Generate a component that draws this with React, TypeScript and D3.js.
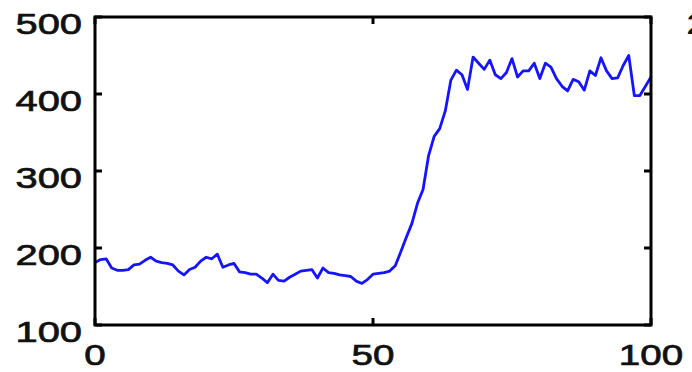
import React, { useEffect, useRef } from 'react';
import * as d3 from 'd3';

// values, one per x step 0..100
const seriesValues: number[] = [
  181, 185, 186, 174, 171, 171, 172, 178, 179, 184,
  188, 183, 181, 180, 178, 170, 165, 172, 175, 183,
  188, 186, 192, 175, 178, 180, 169, 168, 166, 166,
  161, 155, 166, 158, 157, 162, 166, 170, 171, 172,
  161, 174, 168, 167, 165, 164, 163, 157, 154, 159,
  166, 167, 168, 170, 177, 195, 214, 232, 258, 276,
  320, 345, 355, 378, 418, 431, 425, 406, 448, 440,
  432, 444, 425, 420, 428, 446, 422, 430, 430, 440,
  420, 440, 435, 420, 410, 404, 419, 416, 405, 430,
  424, 447, 430, 420, 421, 437, 450, 398, 398, 410,
  422,
];
const xTicks: number[] = [0, 50, 100];
const yTicks: number[] = [100, 200, 300, 400, 500];

function App() {
  const svgRef = useRef<SVGSVGElement>(null);

  useEffect(() => {
    const svg = d3.select(svgRef.current);
    svg.selectAll('*').remove();

    const left = 95, right = 651, top = 17, bottom = 325;
    const x = d3.scaleLinear().domain([0, 100]).range([left, right]);
    const y = d3.scaleLinear().domain([100, 500]).range([bottom, top]);

    const font = '"Liberation Sans", Arial, sans-serif';
    const tickLen = 7;
    const stretch = 1.33; // the source picture's labels are widened

    svg.append('clipPath').attr('id', 'plot-clip')
      .append('rect')
      .attr('x', left).attr('y', top)
      .attr('width', right - left).attr('height', bottom - top);

    const line = d3.line<number>()
      .x((d, i) => x(i))
      .y((d) => y(d));

    svg.append('path')
      .datum(seriesValues)
      .attr('clip-path', 'url(#plot-clip)')
      .attr('d', line)
      .attr('fill', 'none')
      .attr('stroke', '#1414ff')
      .attr('stroke-width', 2.8)
      .attr('stroke-linejoin', 'round');

    const axes = svg.append('g').attr('stroke', '#000').attr('stroke-width', 3);

    axes.append('rect')
      .attr('x', left).attr('y', top)
      .attr('width', right - left).attr('height', bottom - top)
      .attr('fill', 'none');

    // inward ticks on all four sides
    yTicks.forEach((t) => {
      axes.append('line').attr('x1', left).attr('x2', left + tickLen).attr('y1', y(t)).attr('y2', y(t));
      axes.append('line').attr('x1', right).attr('x2', right - tickLen).attr('y1', y(t)).attr('y2', y(t));
    });
    xTicks.forEach((t) => {
      axes.append('line').attr('x1', x(t)).attr('x2', x(t)).attr('y1', bottom).attr('y2', bottom - tickLen);
      axes.append('line').attr('x1', x(t)).attr('x2', x(t)).attr('y1', top).attr('y2', top + tickLen);
    });

    // tick labels, stretched sideways like the reference
    svg.append('g').selectAll('text')
      .data(yTicks)
      .enter()
      .append('text')
      .attr('transform', (d) => `translate(${left - 13},${y(d) + 17}) scale(${stretch},1)`)
      .attr('text-anchor', 'end')
      .attr('font-family', font)
      .attr('font-size', 30)
      .attr('fill', '#111')
      .attr('stroke', '#111')
      .attr('stroke-width', 0.7)
      .text((d) => d);

    svg.append('g').selectAll('text')
      .data(xTicks)
      .enter()
      .append('text')
      .attr('transform', (d) => `translate(${x(d)},${bottom + 40}) scale(${stretch},1)`)
      .attr('text-anchor', 'middle')
      .attr('font-family', font)
      .attr('font-size', 29)
      .attr('fill', '#111')
      .attr('stroke', '#111')
      .attr('stroke-width', 0.7)
      .text((d) => d);

    // fragment of neighbouring panel text, cut by the right edge
    svg.append('text')
      .attr('transform', `translate(686,34) scale(${stretch},1)`)
      .attr('font-family', font)
      .attr('font-size', 30)
      .attr('fill', '#111')
      .text('2');
  }, []);

  return (
    <svg
      ref={svgRef}
      width={692}
      height={372}
      style={{ position: 'absolute', left: 0, top: 0, background: '#fff' }}
    />
  );
}

export default App;
